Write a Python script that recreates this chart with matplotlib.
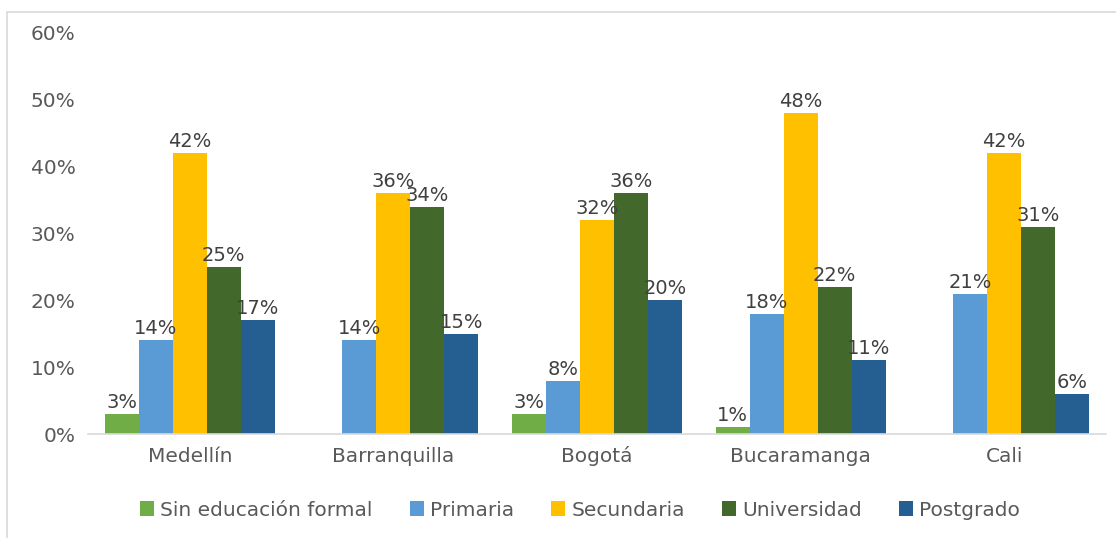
import numpy as np
import matplotlib.pyplot as plt
from matplotlib.patches import Rectangle

# Nivel educativo por ciudad (%)
ciudades = ["Medellín", "Barranquilla", "Bogotá", "Bucaramanga", "Cali"]
sin_educacion = [3, None, 3, 1, None]
primaria = [14, 14, 8, 18, 21]
secundaria = [42, 36, 32, 48, 42]
universidad = [25, 34, 36, 22, 31]
postgrado = [17, 15, 20, 11, 6]

series = [
    ("Sin educación formal", sin_educacion, "#70AD47"),
    ("Primaria", primaria, "#5B9BD5"),
    ("Secundaria", secundaria, "#FFC000"),
    ("Universidad", universidad, "#43682B"),
    ("Postgrado", postgrado, "#255E91"),
]

plt.rcParams['font.family'] = ['DejaVu Sans']
texto = "#595959"
fs = 14.5

fig = plt.figure(figsize=(11.16, 5.38), dpi=100)
ax = fig.add_axes([88 / 1116, 1 - 434 / 538, (1106 - 88) / 1116, (434 - 33) / 538])

# marco gris del gráfico
fig.patches.append(Rectangle((7 / 1116, -0.1), 1.2, 1 - 12 / 538 + 0.1,
                             transform=fig.transFigure, fill=False,
                             edgecolor="#D9D9D9", linewidth=1.2))

x = np.arange(len(ciudades))
w = 0.167
for i, (nombre, vals, color) in enumerate(series):
    pos = x + (i - 2) * w
    alturas = [v if v is not None else 0 for v in vals]
    bars = ax.bar(pos, alturas, width=w, color=color, label=nombre)
    for b, v in zip(bars, vals):
        if v is None:
            b.set_visible(False)
            continue
        ax.text(b.get_x() + b.get_width() / 2, v + 0.3, f"{v}%",
                ha="center", va="bottom", fontsize=14, color="#404040")

ax.set_xlim(-0.5, len(ciudades) - 0.5)
ax.set_ylim(0, 60)
ax.set_yticks(range(0, 61, 10))
ax.set_yticklabels([f"{t}%" for t in range(0, 61, 10)])
ax.set_xticks(x)
ax.set_xticklabels(ciudades)
ax.tick_params(axis="both", length=0, labelsize=fs, colors=texto)
ax.tick_params(axis="x", pad=9)
ax.tick_params(axis="y", pad=9)
for lado in ["top", "right", "left"]:
    ax.spines[lado].set_visible(False)
ax.spines["bottom"].set_color("#D9D9D9")
ax.spines["bottom"].set_linewidth(1.2)

leg = fig.legend(loc="center", bbox_to_anchor=(580 / 1116, 1 - 510 / 538), ncol=5,
                 frameon=False, fontsize=fs, handlelength=0.7, handleheight=0.7,
                 handletextpad=0.3, columnspacing=1.85)
for t in leg.get_texts():
    t.set_color(texto)

fig.savefig("out.png", dpi=100, facecolor="white")
